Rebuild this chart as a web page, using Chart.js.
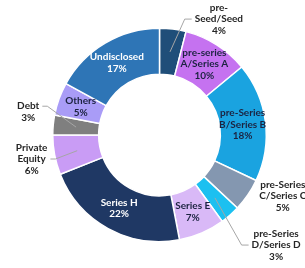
<!DOCTYPE html>
<html>
<head>
<meta charset="utf-8">
<script src="https://cdn.jsdelivr.net/npm/chart.js@4.4.1/dist/chart.umd.min.js"></script>
<style>
  html, body { margin: 0; padding: 0; background: #fff; }
  #wrap { width: 305px; height: 268px; }
</style>
</head>
<body>
<div id="wrap"><canvas id="chart"></canvas></div>
<script>
// data
const stages = ['pre-Seed/Seed', 'pre-series A/Series A', 'pre-Series B/Series B', 'pre-Series C/Series C',
  'pre-Series D/Series D', 'Series E', 'Series H', 'Private Equity', 'Debt', 'Others', 'Undisclosed'];
const shares = [4, 10, 18, 5, 3, 7, 22, 6, 3, 5, 17];
// how each label is written (line breaks as in the picture)
const labelLines = [
  ['pre-', 'Seed/Seed'], ['pre-series', 'A/Series A'], ['pre-Series', 'B/Series B'], ['pre-Series', 'C/Series C'],
  ['pre-Series', 'D/Series D'], ['Series E'], ['Series H'], ['Private', 'Equity'], ['Debt'], ['Others'], ['Undisclosed']
];

const colors = ['#1f4e79', '#c572f0', '#1aa3e0', '#8497b0', '#1cc0f0', '#d9b9f7',
  '#1f3864', '#c99cf5', '#7f7f7f', '#a99cf7', '#2e75b6'];
const textColors = ['#262626', '#1c2340', '#1c2340', '#262626', '#262626', '#1c2340',
  '#ffffff', '#262626', '#262626', '#1c2340', '#ffffff'];
// label placement: inside the ring, or outside with an offset from the arc's outer mid point
const placement = [
  { out: true, dx: 46, dy: -10, leader: true },
  { out: false }, { out: false },
  { out: true, dx: 35, dy: 1, leader: false },
  { out: true, dx: 46, dy: 30, leader: true },
  { out: false }, { out: false },
  { out: true, dx: -23, dy: 4, leader: true },
  { out: true, dx: -25, dy: -13, leader: true },
  { out: false }, { out: false }
];

const FONT = 'bold 10px Lato, "Open Sans", sans-serif';
const LINE_H = 11.5;

const labelPlugin = {
  id: 'ringLabels',
  afterDatasetsDraw(chart) {
    const ctx = chart.ctx;
    const meta = chart.getDatasetMeta(0);
    ctx.save();
    ctx.font = FONT;
    ctx.textAlign = 'center';
    ctx.textBaseline = 'middle';
    meta.data.forEach((arc, i) => {
      const p = arc.getProps(['x', 'y', 'startAngle', 'endAngle', 'innerRadius', 'outerRadius'], true);
      const mid = (p.startAngle + p.endAngle) / 2;
      const rMid = (p.innerRadius + p.outerRadius) / 2;
      const lines = labelLines[i].concat([shares[i] + '%']);
      const pl = placement[i];
      let cx, cy;
      if (!pl.out) {
        cx = p.x + Math.cos(mid) * rMid;
        cy = p.y + Math.sin(mid) * rMid;
      } else {
        cx = p.x + Math.cos(mid) * p.outerRadius + pl.dx;
        cy = p.y + Math.sin(mid) * p.outerRadius + pl.dy;
      }
      const top = cy - (lines.length - 1) * LINE_H / 2;
      if (pl.out && pl.leader) {
        const w = Math.max(...lines.map(l => ctx.measureText(l).width));
        const right = cx > p.x;
        const endX = right ? cx - w / 2 - 3 : cx + w / 2 + 3;
        const endY = cy - (lines.length % 2 ? 0 : LINE_H / 2) ;
        const elbowX = right ? endX - 7 : endX + 5;
        ctx.beginPath();
        ctx.strokeStyle = '#a6a6a6';
        ctx.lineWidth = 1;
        ctx.moveTo(p.x + Math.cos(mid) * rMid, p.y + Math.sin(mid) * rMid);
        ctx.lineTo(elbowX, endY);
        ctx.lineTo(endX, endY);
        ctx.stroke();
      }
      ctx.fillStyle = textColors[i];
      lines.forEach((l, k) => ctx.fillText(l, cx, top + k * LINE_H));
    });
    ctx.restore();
  }
};

new Chart(document.getElementById('chart'), {
  type: 'doughnut',
  data: {
    labels: stages,
    datasets: [{
      data: shares,
      backgroundColor: colors,
      borderColor: '#ffffff',
      borderWidth: 1.5
    }]
  },
  options: {
    responsive: true,
    maintainAspectRatio: false,
    animation: false,
    cutout: '57%',
    layout: { padding: { top: 27, bottom: 25, left: 52, right: 38 } },
    plugins: {
      legend: { display: false },
      tooltip: { enabled: false }
    }
  },
  plugins: [labelPlugin]
});
</script>
</body>
</html>
